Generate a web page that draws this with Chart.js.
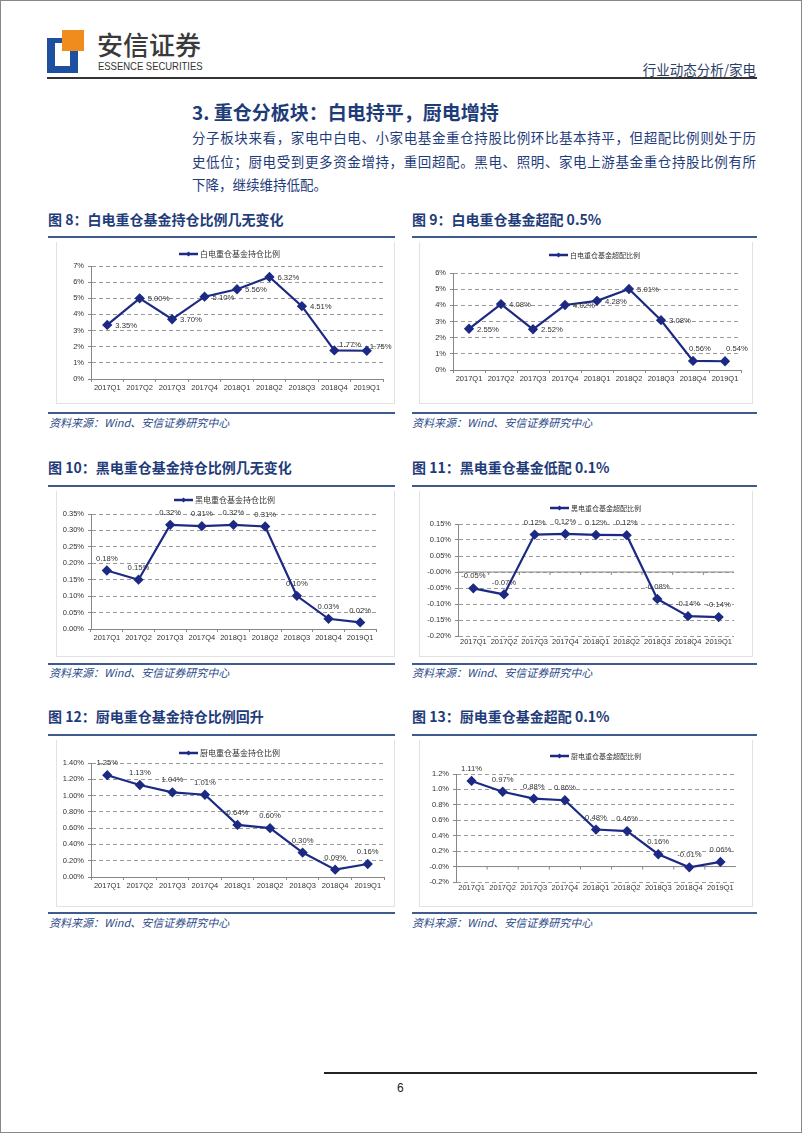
<!DOCTYPE html>
<html>
<head>
<meta charset="utf-8">
<script src="https://cdn.jsdelivr.net/npm/chart.js@4.4.0/dist/chart.umd.min.js"></script>
<style>
  body { margin: 0; background: #fff; }
  #page { position: relative; width: 802px; height: 1133px; border: 1px solid #888; box-sizing: border-box; overflow: hidden;
          font-family: "Noto Sans CJK SC", sans-serif; }
  .abs { position: absolute; }
  .figt { position: absolute; font-size: 14px; font-weight: bold; color: #1f3c7a; line-height: 20px; white-space: nowrap; }
  .rule { position: absolute; height: 2px; background: #3f5a8c; }
  .src { position: absolute; font-size: 11px; font-style: italic; color: #2b4a8a; line-height: 14px; white-space: nowrap; }
  .frame { position: absolute; border: 1px solid #e2e2e2; border-top: none; }
  .para { position: absolute; left: 191px; width: 564px; font-size: 13.5px; line-height: 23.5px; color: #1f3c7a; }
  .jl { text-align: justify; text-align-last: justify; white-space: nowrap; }
</style>
</head>
<body>
<div id="page">
  <!-- logo -->
  <div class="abs" style="left:46px;top:37px;width:31px;height:35px;background:#1f509f"></div>
  <div class="abs" style="left:54px;top:42px;width:15px;height:23px;background:#fff"></div>
  <div class="abs" style="left:61px;top:29px;width:22px;height:21px;background:#f08c1e"></div>
  <div class="abs" style="left:96px;top:27px;font-size:26px;line-height:32px;color:#3a3a3a;font-weight:500">安信证券</div>
  <div class="abs" style="left:97px;top:59px;font-family:'Liberation Sans',Arial;font-size:11px;line-height:12px;color:#333;transform:scaleX(0.86);transform-origin:left;white-space:nowrap">ESSENCE SECURITIES</div>
  <div class="abs" style="left:595px;top:59px;width:160px;text-align:right;font-size:13.5px;line-height:18px;color:#2c3d66;white-space:nowrap">行业动态分析/家电</div>
  <div class="abs" style="left:46px;top:76px;width:710px;height:2px;background:#333"></div>

  <div class="abs" style="left:191px;top:98px;font-size:19px;line-height:26px;font-weight:bold;color:#1e3c78;white-space:nowrap">3. 重仓分板块：白电持平，厨电增持</div>
  <div class="para" style="top:125px">
    <div class="jl">分子板块来看，家电中白电、小家电基金重仓持股比例环比基本持平，但超配比例则处于历</div>
    <div class="jl">史低位；厨电受到更多资金增持，重回超配。黑电、照明、家电上游基金重仓持股比例有所</div>
    <div>下降，继续维持低配。</div>
  </div>

  <!-- row 1 -->
  <div class="figt" style="left:47px;top:208px">图 8：白电重仓基金持仓比例几无变化</div>
  <div class="figt" style="left:411px;top:208px">图 9：白电重仓基金超配 0.5%</div>
  <div class="rule" style="left:47px;top:235px;width:347px"></div>
  <div class="rule" style="left:411px;top:235px;width:345px"></div>
  <div class="frame" style="left:55px;top:241px;width:337px;height:161px"></div>
  <div class="frame" style="left:418px;top:241px;width:332px;height:161px"></div>
  <div class="rule" style="left:47px;top:411px;width:347px"></div>
  <div class="rule" style="left:411px;top:411px;width:345px"></div>
  <div class="src" style="left:48px;top:414px">资料来源：Wind、安信证券研究中心</div>
  <div class="src" style="left:411px;top:414px">资料来源：Wind、安信证券研究中心</div>

  <!-- row 2 -->
  <div class="figt" style="left:47px;top:456px">图 10：黑电重仓基金持仓比例几无变化</div>
  <div class="figt" style="left:411px;top:456px">图 11：黑电重仓基金低配 0.1%</div>
  <div class="rule" style="left:47px;top:484px;width:347px"></div>
  <div class="rule" style="left:411px;top:484px;width:345px"></div>
  <div class="frame" style="left:55px;top:490px;width:337px;height:165px"></div>
  <div class="frame" style="left:418px;top:490px;width:332px;height:165px"></div>
  <div class="rule" style="left:47px;top:662px;width:347px"></div>
  <div class="rule" style="left:411px;top:662px;width:345px"></div>
  <div class="src" style="left:48px;top:664px">资料来源：Wind、安信证券研究中心</div>
  <div class="src" style="left:411px;top:664px">资料来源：Wind、安信证券研究中心</div>

  <!-- row 3 -->
  <div class="figt" style="left:47px;top:705px">图 12：厨电重仓基金持仓比例回升</div>
  <div class="figt" style="left:411px;top:705px">图 13：厨电重仓基金超配 0.1%</div>
  <div class="rule" style="left:47px;top:733px;width:347px"></div>
  <div class="rule" style="left:411px;top:733px;width:345px"></div>
  <div class="frame" style="left:55px;top:739px;width:337px;height:166px"></div>
  <div class="frame" style="left:418px;top:739px;width:332px;height:166px"></div>
  <div class="rule" style="left:47px;top:911px;width:347px"></div>
  <div class="rule" style="left:411px;top:911px;width:345px"></div>
  <div class="src" style="left:48px;top:914px">资料来源：Wind、安信证券研究中心</div>
  <div class="src" style="left:411px;top:914px">资料来源：Wind、安信证券研究中心</div>

  <!-- footer -->
  <div class="abs" style="left:323px;top:1071px;width:433px;height:2px;background:#222"></div>
  <div class="abs" style="left:396px;top:1079px;font-family:'Liberation Sans',Arial;font-size:12px;line-height:16px;color:#222">6</div>
</div>

<script>
"use strict";

// quarters on every x axis
const quarters = ["2017Q1", "2017Q2", "2017Q3", "2017Q4", "2018Q1", "2018Q2", "2018Q3", "2018Q4", "2019Q1"];

// 白电 (percent)
const whiteHold = [3.35, 5.00, 3.70, 5.10, 5.56, 6.32, 4.51, 1.77, 1.75];
const whiteOver = [2.55, 4.08, 2.52, 4.02, 4.28, 5.01, 3.08, 0.56, 0.54];

// 黑电 (percent)
const blackHold = [0.178, 0.150, 0.317, 0.313, 0.317, 0.312, 0.101, 0.031, 0.020];
const blackOver = [-0.051, -0.070, 0.117, 0.119, 0.116, 0.115, -0.084, -0.138, -0.141];

// 厨电 (percent)
const kitchenHold = [1.25, 1.13, 1.04, 1.01, 0.64, 0.60, 0.30, 0.09, 0.16];
const kitchenOver = [1.11, 0.97, 0.88, 0.86, 0.48, 0.46, 0.16, -0.01, 0.06];

// y axes: min, max, step, decimals on tick labels
const whiteHoldAxis = [0, 7, 1, 0];
const whiteOverAxis = [0, 6, 1, 0];
const blackHoldAxis = [0, 0.35, 0.05, 2];
const blackOverAxis = [-0.2, 0.15, 0.05, 2];
const kitchenHoldAxis = [0, 1.4, 0.2, 2];
const kitchenOverAxis = [-0.2, 1.2, 0.2, 1];

Chart.defaults.font.family = "'Liberation Sans', Arial, sans-serif";
Chart.defaults.color = "#333";

const navy = "#1d2a84";

// value labels next to the points
const pointLabels = {
    id: "pointLabels",
    afterDatasetsDraw(chart, args, opts) {
        const ctx = chart.ctx;
        const values = chart.data.datasets[0].data;
        ctx.save();
        ctx.font = "7.7px 'Liberation Sans', Arial";
        ctx.fillStyle = "#333";
        ctx.textBaseline = "middle";
        chart.getDatasetMeta(0).data.forEach(function(pt, i) {
            const txt = values[i].toFixed(2) + "%";
            const sh = (opts.shift && opts.shift[i]) || [0, 0];
            if (opts.mode === "right") {
                ctx.textAlign = "left";
                ctx.fillText(txt, pt.x + 8 + sh[0], pt.y + 1 + sh[1]);
            } else {
                ctx.textAlign = "center";
                ctx.fillText(txt, pt.x + sh[0], pt.y - 12 + sh[1]);
            }
        });
        ctx.restore();
    }
};

// small line + diamond legend
const lineLegend = {
    id: "lineLegend",
    afterDraw(chart, args, opts) {
        const ctx = chart.ctx;
        const x = opts.x, y = opts.y;
        ctx.save();
        ctx.strokeStyle = navy;
        ctx.lineWidth = 2.5;
        ctx.beginPath();
        ctx.moveTo(x, y);
        ctx.lineTo(x + 19, y);
        ctx.stroke();
        ctx.fillStyle = navy;
        ctx.beginPath();
        ctx.moveTo(x + 9.5, y - 2.5);
        ctx.lineTo(x + 12, y);
        ctx.lineTo(x + 9.5, y + 2.5);
        ctx.lineTo(x + 7, y);
        ctx.fill();
        ctx.font = opts.size + "px 'Noto Sans CJK SC'";
        ctx.fillStyle = "#333";
        ctx.textAlign = "left";
        ctx.textBaseline = "middle";
        ctx.fillText(chart.data.datasets[0].label, x + 21, y);
        ctx.restore();
    }
};

// solid zero line with category ticks when the axis goes negative
const zeroLine = {
    id: "zeroLine",
    beforeDatasetsDraw(chart) {
        const ys = chart.scales.y, xs = chart.scales.x;
        if (ys.min >= 0) return;
        const py = ys.getPixelForValue(0);
        const area = chart.chartArea;
        const ctx = chart.ctx;
        ctx.save();
        ctx.strokeStyle = "#888";
        ctx.lineWidth = 1;
        ctx.beginPath();
        ctx.moveTo(area.left, py);
        ctx.lineTo(area.right, py);
        for (let i = 1; i < chart.data.labels.length; i++) {
            const px = (xs.getPixelForValue(i - 1) + xs.getPixelForValue(i)) / 2;
            ctx.moveTo(px, py);
            ctx.lineTo(px, py + 3);
        }
        ctx.stroke();
        ctx.restore();
    }
};

// box = canvas [left, top, width, height], plot = [left, right, top, bottom] on the page
function drawChart(box, plot, name, series, axis, legend, labels) {
    const canvas = document.createElement("canvas");
    canvas.width = box[2];
    canvas.height = box[3];
    canvas.style.cssText = "position:absolute;left:" + box[0] + "px;top:" + box[1] + "px";
    document.getElementById("page").appendChild(canvas);
    const neg = axis[0] < 0;

    new Chart(canvas.getContext("2d"), {
        type: "line",
        data: {
            labels: quarters,
            datasets: [{
                label: name,
                data: series,
                borderColor: navy,
                backgroundColor: navy,
                borderWidth: 2.2,
                pointStyle: "rectRot",
                pointRadius: 3.6,
                tension: 0
            }]
        },
        options: {
            responsive: false,
            animation: false,
            layout: { padding: { left: 0, top: plot[2] - box[1], right: box[0] + box[2] - plot[1], bottom: 0 } },
            plugins: {
                legend: { display: false },
                tooltip: { enabled: false },
                lineLegend: { x: legend[0] - box[0], y: legend[1] - box[1], size: legend[2] },
                pointLabels: labels
            },
            scales: {
                x: {
                    offset: true,
                    afterFit: function(s) { s.height = box[1] + box[3] - plot[3]; },
                    grid: { drawOnChartArea: false, drawTicks: !neg, tickLength: 3, color: "#888", offset: true },
                    border: { display: !neg, color: "#888" },
                    ticks: { font: { size: 7.5 }, padding: 1, maxRotation: 0, autoSkip: false }
                },
                y: {
                    min: axis[0],
                    max: axis[1],
                    afterFit: function(s) { s.width = plot[0] - box[0]; },
                    ticks: {
                        stepSize: axis[2],
                        font: { size: 7.5 },
                        padding: 4,
                        callback: function(v) { return v.toFixed(axis[3]) + "%"; }
                    },
                    grid: { color: "#9a9a9a", tickLength: 3, tickColor: "#888" },
                    border: { color: "#888", dash: [4, 3] }
                }
            }
        },
        plugins: [zeroLine, pointLabels, lineLegend]
    });
}

drawChart([47, 240, 350, 158], [90, 382, 265, 378], "白电重仓基金持仓比例", whiteHold, whiteHoldAxis,
          [178, 253, 8], { mode: "right", shift: { 7: [-3, -7], 8: [-5, -5] } });
drawChart([410, 240, 347, 158], [452, 740, 272, 369], "白电重仓基金超配比例", whiteOver, whiteOverAxis,
          [548, 254, 7], { mode: "right", shift: { 7: [-12, -13], 8: [-7, -13] } });
drawChart([47, 490, 350, 158], [90, 375, 513, 628], "黑电重仓基金持仓比例", blackHold, blackHoldAxis,
          [173, 499, 8], { mode: "above" });
drawChart([410, 490, 347, 162], [457, 733, 523, 635], "黑电重仓基金超配比例", blackOver, blackOverAxis,
          [549, 507, 7], { mode: "above" });
drawChart([47, 740, 350, 158], [90, 383, 762, 876], "厨电重仓基金持仓比例", kitchenHold, kitchenHoldAxis,
          [178, 752, 8], { mode: "above" });
drawChart([410, 740, 347, 162], [455, 735, 773, 881], "厨电重仓基金超配比例", kitchenOver, kitchenOverAxis,
          [549, 755, 7], { mode: "above" });
</script>
</body>
</html>
